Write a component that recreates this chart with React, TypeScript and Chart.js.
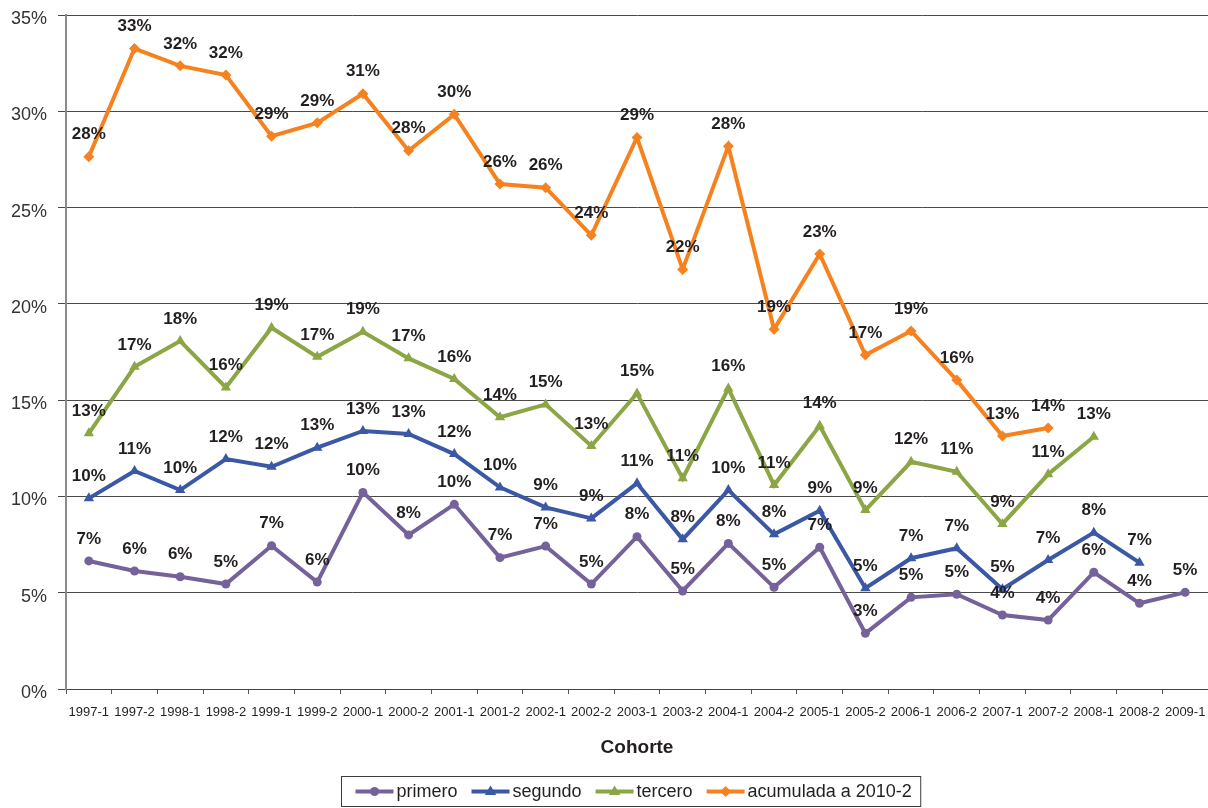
import React, { useEffect, useRef } from "react";
import { Chart, registerables } from "chart.js";

Chart.register(...registerables);

const categories = [
  "1997-1", "1997-2", "1998-1", "1998-2", "1999-1", "1999-2", "2000-1", "2000-2",
  "2001-1", "2001-2", "2002-1", "2002-2", "2003-1", "2003-2", "2004-1", "2004-2",
  "2005-1", "2005-2", "2006-1", "2006-2", "2007-1", "2007-2", "2008-1", "2008-2", "2009-1",
];

const primero = [6.65, 6.13, 5.83, 5.45, 7.44, 5.55, 10.21, 8.0, 9.59, 6.82, 7.42, 5.45, 7.91, 5.09, 7.56, 5.28, 7.36, 2.89, 4.76, 4.92, 3.84, 3.58, 6.06, 4.45, 5.02];
const segundo = [9.9, 11.32, 10.33, 11.94, 11.54, 12.53, 13.4, 13.24, 12.2, 10.47, 9.43, 8.86, 10.68, 7.77, 10.33, 8.03, 9.26, 5.23, 6.79, 7.31, 5.18, 6.7, 8.12, 6.56, null];
const tercero = [13.28, 16.73, 18.07, 15.66, 18.76, 17.25, 18.55, 17.17, 16.1, 14.11, 14.78, 12.62, 15.35, 10.94, 15.61, 10.59, 13.67, 9.29, 11.8, 11.28, 8.57, 11.15, 13.1, null, null];
const acumulada = [27.64, 33.26, 32.36, 31.88, 28.71, 29.4, 30.91, 27.95, 29.84, 26.22, 26.03, 23.56, 28.64, 21.79, 28.19, 18.68, 22.59, 17.34, 18.59, 16.04, 13.14, 13.55, null, null, null];

const seriesNames = ["primero", "segundo", "tercero", "acumulada a 2010-2"];
const seriesColors = ["#76629a", "#3a58a6", "#8ca545", "#f5821f"];
const seriesMarkers = ["circle", "triangle", "triangle", "rectRot"];
const markerSizes = [4.5, 6, 6, 5.5];

const axisTitle = "Cohorte";
const FONT = '"Liberation Sans", Arial, sans-serif';

function drawMarker(ctx: CanvasRenderingContext2D, style: string, x: number, y: number, r: number, color: string) {
  ctx.save();
  ctx.fillStyle = color;
  ctx.beginPath();
  if (style === "circle") {
    ctx.arc(x, y, r, 0, Math.PI * 2);
  } else if (style === "triangle") {
    ctx.moveTo(x, y - r);
    ctx.lineTo(x + r * 0.95, y + r * 0.6);
    ctx.lineTo(x - r * 0.95, y + r * 0.6);
    ctx.closePath();
  } else {
    ctx.moveTo(x, y - r);
    ctx.lineTo(x + r, y);
    ctx.lineTo(x, y + r);
    ctx.lineTo(x - r, y);
    ctx.closePath();
  }
  ctx.fill();
  ctx.restore();
}

const labelsPlugin = {
  id: "valueLabels",
  afterDatasetsDraw(chart: any) {
    const ctx = chart.ctx as CanvasRenderingContext2D;
    ctx.save();
    ctx.font = `bold 17px ${FONT}`;
    ctx.fillStyle = "#231f20";
    ctx.textAlign = "center";
    ctx.textBaseline = "middle";
    chart.data.datasets.forEach((ds: any, i: number) => {
      const meta = chart.getDatasetMeta(i);
      meta.data.forEach((pt: any, j: number) => {
        const v = ds.data[j];
        if (v === null || v === undefined) return;
        ctx.fillText(Math.round(v) + "%", pt.x, pt.y - 22);
      });
    });
    ctx.restore();
  },
};

const legendPlugin = {
  id: "customLegend",
  afterDraw(chart: any) {
    const ctx = chart.ctx as CanvasRenderingContext2D;
    const area = chart.chartArea;
    ctx.save();
    ctx.font = `bold 19px ${FONT}`;
    ctx.fillStyle = "#231f20";
    ctx.textAlign = "center";
    ctx.textBaseline = "middle";
    ctx.fillText(axisTitle, (area.left + area.right) / 2, 748);

    ctx.font = `18px ${FONT}`;
    const lineLen = 38;
    const gapText = 3;
    const gapItem = 14;
    const padL = 14;
    const padR = 9;
    const widths = seriesNames.map((n) => ctx.measureText(n).width);
    const total = padL + padR + widths.reduce((a, w) => a + lineLen + gapText + w, 0) + gapItem * (seriesNames.length - 1);
    const cx = 630.5;
    const left = Math.round(cx - total / 2) + 0.5;
    const top = 776.5;
    const h = 30;
    ctx.strokeStyle = "#3c3c3c";
    ctx.lineWidth = 1;
    ctx.strokeRect(left, top, total, h);
    let x = left + padL;
    const y = top + h / 2;
    ctx.textAlign = "left";
    seriesNames.forEach((n, i) => {
      ctx.strokeStyle = seriesColors[i];
      ctx.lineWidth = 4;
      ctx.beginPath();
      ctx.moveTo(x, y);
      ctx.lineTo(x + lineLen, y);
      ctx.stroke();
      drawMarker(ctx, seriesMarkers[i], x + lineLen / 2, y, markerSizes[i], seriesColors[i]);
      ctx.fillStyle = "#231f20";
      ctx.fillText(n, x + lineLen + gapText, y + 1);
      x += lineLen + gapText + widths[i] + gapItem;
    });
    ctx.restore();
  },
};

export default function App() {
  const ref = useRef<HTMLCanvasElement | null>(null);

  useEffect(() => {
    document.body.style.margin = "0";
    document.body.style.overflow = "hidden";
    if (!ref.current) return;
    const seriesData = [primero, segundo, tercero, acumulada];
    const chart = new Chart(ref.current, {
      type: "line",
      data: {
        labels: categories,
        datasets: seriesData.map((d, i) => ({
          label: seriesNames[i],
          data: d,
          borderColor: seriesColors[i],
          backgroundColor: seriesColors[i],
          borderWidth: 4,
          pointStyle: seriesMarkers[i] as any,
          pointRadius: markerSizes[i],
          pointBorderWidth: 0,
          pointBackgroundColor: seriesColors[i],
          tension: 0,
          order: 4 - i,
          spanGaps: false,
          clip: false as any,
        })),
      },
      options: {
        responsive: false,
        animation: false,
        events: [],
        layout: { autoPadding: false, padding: { top: 15, right: 0, bottom: 0, left: 0 } },
        plugins: {
          legend: { display: false },
          tooltip: { enabled: false },
          title: { display: false },
        },
        scales: {
          x: {
            type: "category",
            offset: true,
            grid: {
              offset: true,
              drawOnChartArea: false,
              drawTicks: true,
              tickLength: 5,
              color: "#555",
            },
            border: { display: true, color: "#444", width: 1 },
            ticks: {
              autoSkip: false,
              maxRotation: 0,
              minRotation: 0,
              padding: 11,
              color: "#231f20",
              font: { family: FONT, size: 13 },
            },
            afterFit: (s: any) => {
              s.height = 119;
              s.paddingLeft = 0;
              s.paddingRight = 0;
            },
          },
          y: {
            min: 0,
            max: 35,
            ticks: {
              stepSize: 5,
              padding: 11,
              labelOffset: 4,
              color: "#333",
              font: { family: FONT, size: 18 },
              callback: (v: any) => v + "%",
            },
            grid: {
              color: "#4a4a4a",
              lineWidth: 1,
              drawTicks: true,
              tickLength: 8,
            },
            border: { display: true, color: "#8a8a8a", width: 2 },
            afterFit: (s: any) => {
              s.width = 66;
              s.paddingTop = 0;
              s.paddingBottom = 0;
            },
          },
        },
      },
      plugins: [labelsPlugin, legendPlugin],
    });
    return () => chart.destroy();
  }, []);

  return (
    <div style={{ position: "absolute", left: 0, top: 0, width: 1208, height: 808, background: "#fff" }}>
      <canvas ref={ref} width={1208} height={808} style={{ display: "block" }} />
    </div>
  );
}
